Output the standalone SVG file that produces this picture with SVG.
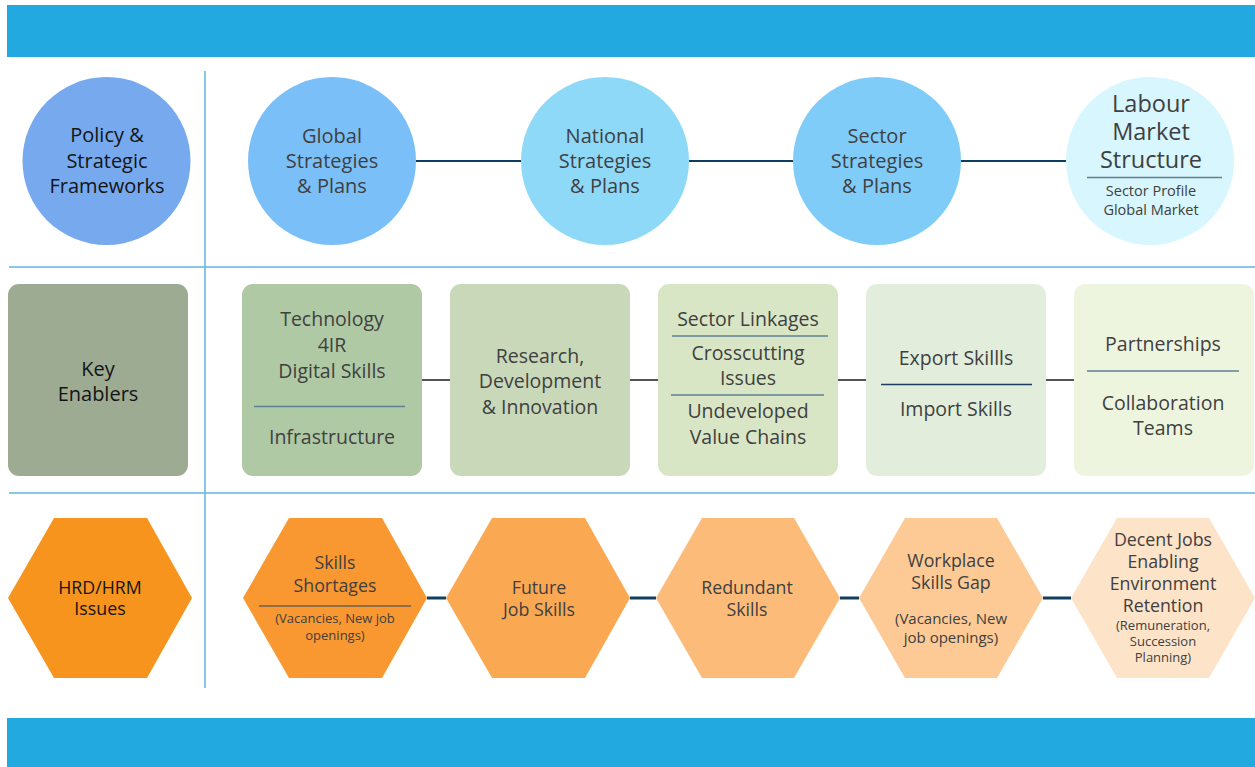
<svg xmlns="http://www.w3.org/2000/svg" width="1255" height="767" viewBox="0 0 1255 767">
<style>
text{font-family:"Open Sans","Liberation Sans",sans-serif;text-anchor:middle;fill:#404040}
.dk{fill:#141414}
.c{font-size:20px}
.b{font-size:19.5px}
.h{font-size:17.8px}
.s{font-size:13px}
.grid{stroke:#5cb6e3;stroke-width:1.5;fill:none}
.top{stroke:#0e3d5e;stroke-width:2}
.mid{stroke:#1a1a1a;stroke-width:1.5}
.bot{stroke:#123e60;stroke-width:3}
.div{stroke:#5f7f93;stroke-width:1.5}
</style>
<rect x="7" y="5" width="1248" height="52" fill="#22aae0"/>
<rect x="7" y="718" width="1248" height="49" fill="#22aae0"/>
<g id="grid">
<line class="grid" x1="205" y1="71" x2="205" y2="688"/>
<line class="grid" x1="9" y1="267" x2="1255" y2="267"/>
<line class="grid" x1="9" y1="493" x2="1255" y2="493"/>
</g>
<g id="connectors">
<line class="top" x1="416" y1="161" x2="521" y2="161"/>
<line class="top" x1="689" y1="161" x2="793" y2="161"/>
<line class="top" x1="961" y1="161" x2="1066" y2="161"/>
<line class="mid" x1="422" y1="380" x2="450" y2="380"/>
<line class="mid" x1="630" y1="380" x2="658" y2="380"/>
<line class="mid" x1="838" y1="380" x2="866" y2="380"/>
<line class="mid" x1="1046" y1="380" x2="1074" y2="380"/>
<line class="bot" x1="427" y1="598" x2="446" y2="598"/>
<line class="bot" x1="630" y1="598" x2="656" y2="598"/>
<line class="bot" x1="840" y1="598" x2="859" y2="598"/>
<line class="bot" x1="1043" y1="598" x2="1071" y2="598"/>
</g>
<g id="policy">
<circle cx="106.5" cy="161" r="84" fill="#76a9ee"/>
<text class="c dk" x="107" y="142">Policy &amp;</text>
<text class="c dk" x="107" y="168">Strategic</text>
<text class="c dk" x="107" y="193">Frameworks</text>
</g>
<g id="global">
<circle cx="332" cy="161" r="84" fill="#7bbff9"/>
<text class="c" x="332" y="143">Global</text>
<text class="c" x="332" y="168">Strategies</text>
<text class="c" x="332" y="193">&amp; Plans</text>
</g>
<g id="national">
<circle cx="605" cy="161" r="84" fill="#8fd9f8"/>
<text class="c" x="605" y="143">National</text>
<text class="c" x="605" y="168">Strategies</text>
<text class="c" x="605" y="193">&amp; Plans</text>
</g>
<g id="sector">
<circle cx="877" cy="161" r="84" fill="#80ccf8"/>
<text class="c" x="877" y="143">Sector</text>
<text class="c" x="877" y="168">Strategies</text>
<text class="c" x="877" y="193">&amp; Plans</text>
</g>
<g id="labour">
<circle cx="1150" cy="161" r="84" fill="#d8f6fd"/>
<text x="1151" y="112" style="font-size:23.5px">Labour</text>
<text x="1151" y="140" style="font-size:23.5px">Market</text>
<text x="1151" y="168" style="font-size:23.5px">Structure</text>
<line class="div" x1="1087" y1="177.5" x2="1222" y2="177.5"/>
<text x="1151" y="196" style="font-size:14.5px">Sector Profile</text>
<text x="1151" y="215" style="font-size:14.5px">Global Market</text>
</g>
<g id="key-enablers">
<rect x="8" y="284" width="180" height="192" rx="11" fill="#9dab93"/>
<text class="c dk" x="98" y="376">Key</text>
<text class="c dk" x="98" y="401">Enablers</text>
</g>
<g id="technology">
<rect x="242" y="284" width="180" height="192" rx="11" fill="#b0c9a5"/>
<text class="b" x="332" y="326">Technology</text>
<text class="b" x="332" y="352">4IR</text>
<text class="b" x="332" y="378">Digital Skills</text>
<line class="div" x1="254" y1="406.5" x2="405" y2="406.5"/>
<text class="b" x="332" y="444">Infrastructure</text>
</g>
<g id="research">
<rect x="450" y="284" width="180" height="192" rx="11" fill="#c9d8b9"/>
<text class="b" x="540" y="363">Research,</text>
<text class="b" x="540" y="388">Development</text>
<text class="b" x="540" y="414">&amp; Innovation</text>
</g>
<g id="sector-linkages">
<rect x="658" y="284" width="180" height="192" rx="11" fill="#d9e6c6"/>
<text class="b" x="748" y="326">Sector Linkages</text>
<line class="div" x1="672" y1="336" x2="828" y2="336"/>
<text class="b" x="748" y="360">Crosscutting</text>
<text class="b" x="748" y="385">Issues</text>
<line class="div" x1="671" y1="395" x2="824" y2="395"/>
<text class="b" x="748" y="418">Undeveloped</text>
<text class="b" x="748" y="444">Value Chains</text>
</g>
<g id="export">
<rect x="866" y="284" width="180" height="192" rx="11" fill="#e2eedb"/>
<text class="b" x="956" y="365">Export Skillls</text>
<line x1="881" y1="384.5" x2="1032" y2="384.5" stroke="#1c3f63" stroke-width="1.5"/>
<text class="b" x="956" y="416">Import Skills</text>
</g>
<g id="partnerships">
<rect x="1074" y="284" width="180" height="192" rx="11" fill="#edf5df"/>
<text class="b" x="1163" y="351">Partnerships</text>
<line class="div" x1="1087" y1="371" x2="1239" y2="371"/>
<text class="b" x="1163" y="410">Collaboration</text>
<text class="b" x="1163" y="435">Teams</text>
</g>
<g id="hrd">
<polygon points="8,598 54,518 147,518 192,598 147,678 54,678" fill="#f7941e"/>
<text class="h dk" x="100" y="594">HRD/HRM</text>
<text class="h dk" x="100" y="615">Issues</text>
</g>
<g id="skills-shortages">
<polygon points="243,598 289,518 382,518 427,598 382,678 289,678" fill="#f99830"/>
<text class="h" x="335" y="569">Skills</text>
<text class="h" x="335" y="592">Shortages</text>
<line x1="259" y1="606" x2="411" y2="606" stroke="#6b6055" stroke-width="1.5"/>
<text class="s" x="335" y="623">(Vacancies, New job</text>
<text class="s" x="335" y="640">openings)</text>
</g>
<g id="future">
<polygon points="446,598 492,518 585,518 630,598 585,678 492,678" fill="#fba853"/>
<text class="h" x="539" y="594">Future</text>
<text class="h" x="539" y="616">Job Skills</text>
</g>
<g id="redundant">
<polygon points="656,598 702,518 794,518 840,598 794,678 702,678" fill="#fdbb7a"/>
<text class="h" x="747" y="594">Redundant</text>
<text class="h" x="747" y="616">Skills</text>
</g>
<g id="workplace">
<polygon points="859,598 905,518 997,518 1043,598 997,678 905,678" fill="#fdca95"/>
<text class="h" x="951" y="567">Workplace</text>
<text class="h" x="951" y="589">Skills Gap</text>
<text x="951" y="624" style="font-size:15px">(Vacancies, New</text>
<text x="951" y="643" style="font-size:15px">job openings)</text>
</g>
<g id="decent">
<polygon points="1071,598 1117,518 1209,518 1255,598 1209,678 1117,678" fill="#fde3c8"/>
<text class="h" x="1163" y="546">Decent Jobs</text>
<text class="h" x="1163" y="568">Enabling</text>
<text class="h" x="1163" y="590">Environment</text>
<text class="h" x="1163" y="612">Retention</text>
<text class="s" x="1163" y="630">(Remuneration,</text>
<text class="s" x="1163" y="646">Succession</text>
<text class="s" x="1163" y="662">Planning)</text>
</g>
</svg>
